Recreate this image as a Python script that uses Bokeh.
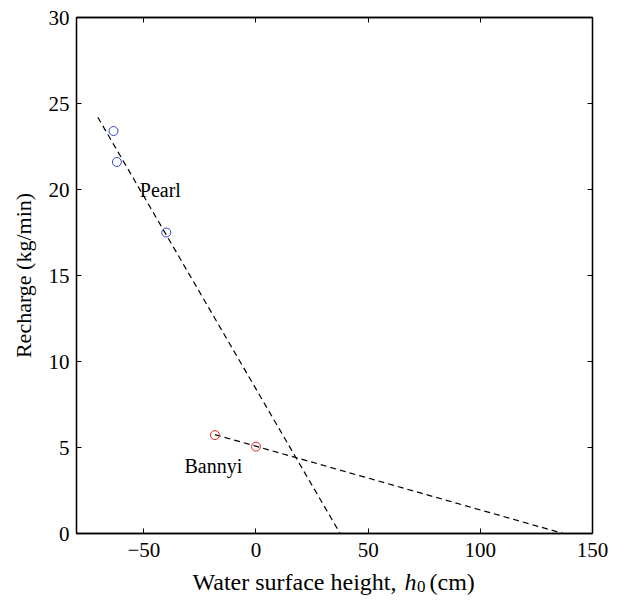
from bokeh.plotting import figure
from bokeh.models import LinearAxis, FixedTicker, Label, Range1d
from bokeh.layouts import column
from bokeh.embed import file_html
from bokeh.resources import INLINE

# Data
pearl_h = [-63.5, -62.0, -40.0]
pearl_r = [23.4, 21.6, 17.5]
bannyi_h = [-18.3, 0.0]
bannyi_r = [5.72, 5.05]
pearl_fit_h = [-70.5, 37.5]
pearl_fit_r = [24.2, 0.0]
bannyi_fit_h = [-18.3, 137.0]
bannyi_fit_r = [5.75, 0.0]
x_ticks = [-50, 0, 50, 100, 150]
y_ticks = [0, 5, 10, 15, 20, 25, 30]

FONT = "Liberation Serif"
TICK_FS = "21px"
YLAB_FS = "22px"
XLAB_FS = "24px"
ANN_FS = "20px"

p = figure(width=612, height=561, x_range=(-80, 150), y_range=(0, 30),
           output_backend="svg", toolbar_location=None,
           min_border_left=76, min_border_right=20, min_border_top=17, min_border_bottom=28)
p.grid.visible = False
p.outline_line_color = "black"
p.outline_line_width = 1.3
p.background_fill_color = "white"
p.border_fill_color = "white"

def style(ax):
    ax.major_tick_in = 5
    ax.major_tick_out = 0
    ax.minor_tick_line_color = None
    ax.axis_line_color = "black"
    ax.axis_line_width = 1.3
    ax.major_tick_line_color = "black"
    ax.major_tick_line_width = 1
    ax.major_label_text_font = FONT
    ax.major_label_text_color = "black"
    ax.major_label_text_font_size = TICK_FS

p.xaxis.ticker = FixedTicker(ticks=x_ticks)
p.yaxis.ticker = FixedTicker(ticks=y_ticks)
style(p.xaxis[0])
style(p.yaxis[0])
p.xaxis.major_label_overrides = {-50: "\u221250"}
p.xaxis.major_label_standoff = 9
p.yaxis.major_label_standoff = 7
p.yaxis.axis_label = "Recharge (kg/min)"
p.yaxis.axis_label_text_font = FONT
p.yaxis.axis_label_text_font_size = YLAB_FS
p.yaxis.axis_label_text_font_style = "normal"
p.yaxis.axis_label_text_color = "black"
p.yaxis.axis_label_standoff = 10

top = LinearAxis(ticker=FixedTicker(ticks=x_ticks))
right = LinearAxis(ticker=FixedTicker(ticks=y_ticks))
style(top)
style(right)
top.major_label_overrides = {t: "" for t in x_ticks}
right.major_label_overrides = {t: "" for t in y_ticks}
top.major_label_standoff = 0
right.major_label_standoff = 0
p.add_layout(top, "above")
p.add_layout(right, "right")

# Fit lines
p.line(pearl_fit_h, pearl_fit_r, line_color="black", line_dash="6 4", line_width=1.2)
p.line(bannyi_fit_h, bannyi_fit_r, line_color="black", line_dash="6 4", line_width=1.2)

# Points
p.scatter(pearl_h, pearl_r, marker="circle", size=9, fill_color=None,
          line_color="#3344cc", line_width=1)
p.scatter(bannyi_h, bannyi_r, marker="circle", size=9, fill_color=None,
          line_color="#ee2222", line_width=1)

# Data labels
p.add_layout(Label(x=-51.8, y=20.0, text="Pearl", text_font=FONT, text_font_size=ANN_FS,
                   text_color="black", text_baseline="alphabetic"))
p.add_layout(Label(x=-31.9, y=3.9, text="Bannyi", text_font=FONT, text_font_size=ANN_FS,
                   text_color="black", text_baseline="alphabetic"))

# X axis label strip; its frame is aligned with the main frame (page x 76..592)
q = figure(title=None, width=612, height=38, x_range=Range1d(76, 592),
           y_range=Range1d(599, 561),
           output_backend="svg", toolbar_location=None, x_axis_type=None, y_axis_type=None,
           min_border_left=0, min_border_right=0, min_border_top=0, min_border_bottom=0)
q.grid.visible = False
q.outline_line_color = None
q.background_fill_color = "white"
q.border_fill_color = "white"

def qlabel(x, y, text, size=XLAB_FS, style="normal", align="left"):
    q.add_layout(Label(x=x, y=y, text=text, text_font=FONT, text_font_size=size,
                       text_font_style=style, text_color="black", text_align=align,
                       text_baseline="alphabetic"))

qlabel(192, 581, "Water surface height,")
qlabel(404, 581, "h", style="italic")
qlabel(416.5, 586, "0", size="17px")
qlabel(429, 581, "(cm)")

layout = column(p, q, spacing=0)
open("out.html", "w").write(file_html(layout, INLINE))
